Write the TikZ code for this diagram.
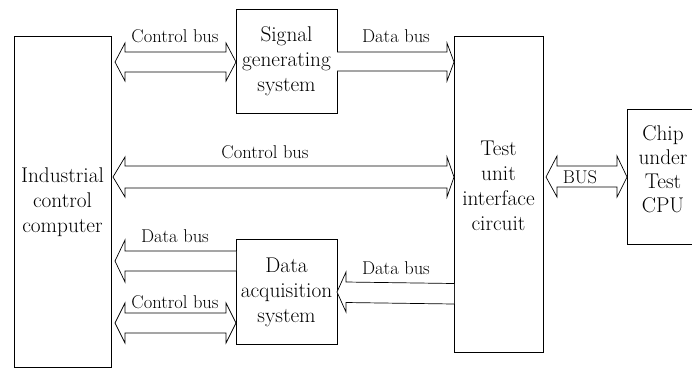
\documentclass[tikz,border=0pt]{standalone}
\usepackage{fontspec}
\begin{document}
\begin{tikzpicture}[x=1pt,y=-1pt,
  box/.style={draw, line width=0.9pt, inner sep=0pt},
  main/.style={font=\rmfamily\fontsize{21.3}{25}\selectfont, align=center, inner sep=0pt},
  lab/.style={font=\rmfamily\fontsize{18.5}{22}\selectfont, inner sep=0pt},
  bus/.style={draw, line width=0.7pt, fill=white, line join=miter}]
\useasboundingbox (0,0) rectangle (692,368);
% boxes
\node[box, minimum width=97pt, minimum height=331pt] (comp) at (62.5,201.5) {};
\node[box, minimum width=101pt, minimum height=104pt] (sig) at (286.5,61) {};
\node[box, minimum width=101pt, minimum height=105pt] (acq) at (286.5,291.5) {};
\node[box, minimum width=89pt, minimum height=316pt] (test) at (498.5,194) {};
\node[box, minimum width=73pt, minimum height=135pt] (chip) at (663.5,176.5) {};
% box texts
\node[main] (tcomp) at (62.5,202) {Industrial\\control\\computer};
\node[main] (tsig) at (286.5,61) {Signal\\generating\\system};
\node[main] (tacq) at (286.5,292) {Data\\acquisition\\system};
\node[main] (ttest) at (498.5,186) {Test\\unit\\interface\\circuit};
\node[main, font=\rmfamily\fontsize{21.3}{24}\selectfont] (tchip) at (663,169) {Chip\\under\\Test\\CPU};
% bus arrows
\draw[bus] (115,62) -- (125,43) -- (125,52) -- (226,52) -- (226,43) -- (236,62)
  -- (226,81) -- (226,72) -- (125,72) -- (125,81) -- cycle;
\draw[bus] (337,52) -- (447,52) -- (447,43) -- (454,62) -- (447,81) -- (447,71) -- (337,71);
\draw[bus] (113,177) -- (125,157) -- (125,166) -- (447,166) -- (447,157) -- (454,177)
  -- (447,197) -- (447,188) -- (125,188) -- (125,197) -- cycle;
\draw[bus] (236,251) -- (125,251) -- (125,240) -- (115,261) -- (125,282) -- (125,271) -- (236,271);
\draw[bus] (115,323) -- (125,303) -- (125,313) -- (226,313) -- (226,303) -- (236,323)
  -- (226,343) -- (226,333) -- (125,333) -- (125,343) -- cycle;
\draw[bus] (454,283.5) -- (346,282) -- (346,272) -- (337,292) -- (346,312) -- (346,302.5) -- (454,304);
\draw[bus] (546,177) -- (557,156) -- (557,166) -- (617,166) -- (617,156) -- (627,177)
  -- (617,197) -- (617,187) -- (557,187) -- (557,197) -- cycle;
% bus labels
\node[lab] (lcb1) at (175,36) {Control bus};
\node[lab] (ldb1) at (396,36) {Data bus};
\node[lab] (lcb2) at (265,152) {Control bus};
\node[lab] (ldb2) at (175,236) {Data bus};
\node[lab] (lcb3) at (175,302) {Control bus};
\node[lab] (ldb3) at (396,268) {Data bus};
\node[lab] (lbus) at (580,177) {BUS};
\end{tikzpicture}
\end{document}
